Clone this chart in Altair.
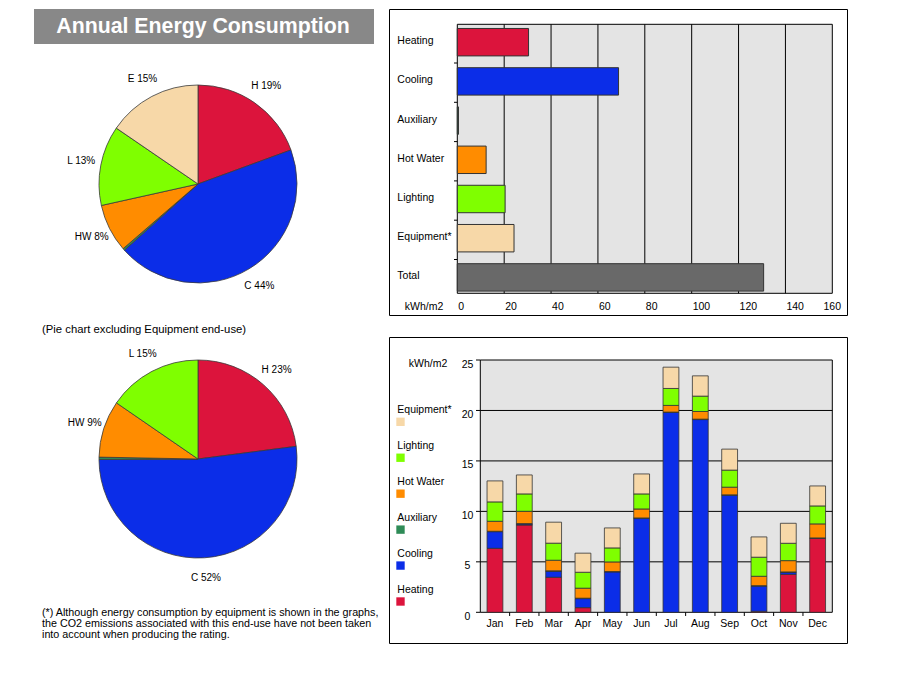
import altair as alt
import pandas as pd

FONT = "Liberation Sans, Arial, sans-serif"

# ---------------- data ----------------
title = "Annual Energy Consumption"
subtitle = "(Pie chart excluding Equipment end-use)"
footnote = [
    "(*) Although energy consumption by equipment is shown in the graphs,",
    "the CO2 emissions associated with this end-use have not been taken",
    "into account when producing the rating.",
]

end_uses = ["Heating", "Cooling", "Auxiliary", "Hot Water", "Lighting", "Equipment*", "Total"]
annual = [30.4, 68.8, 0.5, 12.3, 20.4, 24.2, 130.7]
colors = ["#DC143C", "#0B2DE8", "#2E8B57", "#FF8C00", "#7FFF00", "#F7D8A8", "#696969"]

pie1_cats = ["Heating", "Cooling", "Auxiliary", "Hot Water", "Lighting", "Equipment*"]
pie1_vals = [30.4, 68.8, 0.5, 12.3, 20.4, 24.2]
pie1_labels = ["H 19%", "C 44%", "", "HW 8%", "L 13%", "E 15%"]

pie2_cats = ["Heating", "Cooling", "Auxiliary", "Hot Water", "Lighting"]
pie2_vals = [30.4, 68.8, 0.5, 12.3, 20.4]
pie2_labels = ["H 23%", "C 52%", "", "HW 9%", "L 15%"]

x_ticks1 = [0, 20, 40, 60, 80, 100, 120, 140, 160]
y_ticks2 = [0, 5, 10, 15, 20, 25]
unit = "kWh/m2"

months = ["Jan", "Feb", "Mar", "Apr", "May", "Jun", "Jul", "Aug", "Sep", "Oct", "Nov", "Dec"]
m_heating = [6.34, 8.65, 3.47, 0.46, 0, 0, 0, 0, 0, 0.1, 3.76, 7.33]
m_cooling = [1.65, 0.1, 0.6, 0.9, 4.0, 9.31, 19.8, 19.1, 11.6, 2.5, 0.2, 0]
m_aux = [0.04, 0.04, 0.04, 0.04, 0.04, 0.04, 0.04, 0.04, 0.04, 0.04, 0.04, 0.04]
m_hotwater = [0.99, 1.22, 1.05, 0.99, 0.95, 0.89, 0.66, 0.76, 0.76, 0.93, 1.12, 1.39]
m_lighting = [1.92, 1.72, 1.69, 1.58, 1.39, 1.49, 1.68, 1.52, 1.69, 1.89, 1.72, 1.78]
m_equipment = [2.08, 1.88, 2.08, 1.89, 1.98, 1.98, 2.11, 2.01, 2.08, 2.01, 1.98, 1.98]

legend_order = ["Equipment*", "Lighting", "Hot Water", "Auxiliary", "Cooling", "Heating"]

# ---------------- helpers ----------------
color_scale = alt.Scale(domain=end_uses, range=colors)
one = pd.DataFrame({"d": [0]})


def box(x1, x2, y1, y2, fill, stroke=None):
    kw = dict(fill=fill)
    if stroke:
        kw.update(stroke=stroke, strokeWidth=1)
    return alt.Chart(one).mark_rect(**kw).encode(
        x=alt.value(x1), x2=alt.value(x2), y=alt.value(y1), y2=alt.value(y2))


layers = []

# title
layers.append(box(34, 374, 9, 44, "#888888"))
layers.append(alt.Chart(pd.DataFrame({"t": [title]})).mark_text(
    font=FONT, fontSize=21.3, fontWeight="bold", color="white", align="center", baseline="middle"
).encode(x=alt.value(203), y=alt.value(27), text="t:N"))


def pie(cats, vals, labels, cx, cy):
    df = pd.DataFrame({"cat": cats, "val": vals, "lab": labels, "ord": list(range(len(cats)))})
    base = alt.Chart(df).encode(
        theta=alt.Theta("val:Q", stack=True),
        order=alt.Order("ord:Q"),
        x=alt.value(cx), y=alt.value(cy))
    arcs = base.mark_arc(outerRadius=99, stroke="#3a3a3a", strokeWidth=0.8).encode(
        color=alt.Color("cat:N", scale=color_scale, legend=None))
    text = base.mark_text(radius=119, font=FONT, fontSize=10, color="black",
                          align="center", baseline="middle").encode(text="lab:N")
    return [arcs, text]


layers += pie(pie1_cats, pie1_vals, pie1_labels, 198, 184)
layers += pie(pie2_cats, pie2_vals, pie2_labels, 198, 459)

layers.append(alt.Chart(pd.DataFrame({"t": [subtitle]})).mark_text(
    font=FONT, fontSize=11.3, align="left", baseline="middle", color="black"
).encode(x=alt.value(42), y=alt.value(330), text="t:N"))

fn = pd.DataFrame({"t": footnote, "i": list(range(len(footnote)))})
layers.append(alt.Chart(fn).mark_text(
    font=FONT, fontSize=10.75, align="left", baseline="middle", color="black"
).encode(x=alt.value(42),
         y=alt.Y("i:O", scale=alt.Scale(type="point", domain=[0, 1, 2], range=[612.7, 635], padding=0), axis=None),
         text="t:N"))

# ---------------- bar chart 1 ----------------
xs1 = alt.Scale(domain=[0, 160], range=[457.3, 832.3], nice=False, zero=False)
ys1 = alt.Scale(domain=end_uses, range=[22.6, 297.0], paddingInner=0.3, paddingOuter=0.15)
ys1_ticks = alt.Scale(domain=end_uses, range=[23.7, 298.8], paddingInner=0, paddingOuter=0)
P1_TOP, P1_BOT = 24.3, 293.3

layers.append(box(389.5, 847.5, 9.5, 315.5, "white", "black"))
layers.append(alt.Chart(pd.DataFrame({"a": [x_ticks1[0]], "b": [x_ticks1[-1]]})).mark_rect(
    fill="#E4E4E4", stroke="black", strokeWidth=1
).encode(x=alt.X("a:Q", scale=xs1, axis=None), x2="b:Q", y=alt.value(P1_TOP), y2=alt.value(P1_BOT)))

tk1 = pd.DataFrame({"v": x_ticks1})
layers.append(alt.Chart(tk1).mark_rule(color="black", strokeWidth=1).encode(
    x=alt.X("v:Q", scale=xs1, axis=None), y=alt.value(P1_TOP), y2=alt.value(P1_BOT)
).transform_filter("datum.v > 0 && datum.v < 160"))

bars1 = pd.DataFrame({"cat": end_uses, "val": annual})
layers.append(alt.Chart(bars1).mark_bar(stroke="#333333", strokeWidth=1).encode(
    x=alt.X("val:Q", scale=xs1, axis=None),
    y=alt.Y("cat:N", scale=ys1, axis=None),
    color=alt.Color("cat:N", scale=color_scale, legend=None)))

layers.append(alt.Chart(bars1).mark_text(
    font=FONT, fontSize=10.5, align="left", baseline="middle", color="black", dy=-1
).encode(x=alt.value(397.3), y=alt.Y("cat:N", scale=ys1, axis=None), text="cat:N"))

layers.append(alt.Chart(pd.DataFrame({"cat": end_uses[1:]})).mark_rule(color="black").encode(
    y=alt.Y("cat:N", scale=ys1_ticks, axis=None, bandPosition=0),
    x=alt.value(454), x2=alt.value(457.3)))

layers.append(alt.Chart(tk1).mark_text(
    font=FONT, fontSize=10.5, align="left", baseline="middle", color="black", dx=1
).encode(x=alt.X("v:Q", scale=xs1, axis=None), y=alt.value(307), text="v:Q"
         ).transform_filter("datum.v < 160"))
layers.append(alt.Chart(tk1).mark_text(
    font=FONT, fontSize=10.5, align="center", baseline="middle", color="black"
).encode(x=alt.X("v:Q", scale=xs1, axis=None), y=alt.value(307), text="v:Q"
         ).transform_filter("datum.v >= 160"))
layers.append(alt.Chart(pd.DataFrame({"t": [unit]})).mark_text(
    font=FONT, fontSize=10.5, align="center", baseline="middle", color="black"
).encode(x=alt.value(424), y=alt.value(307), text="t:N"))

# ---------------- bar chart 2 ----------------
xs2 = alt.Scale(domain=months, range=[480.3, 832.3], paddingInner=0.46, paddingOuter=0.23)
xs2_ticks = alt.Scale(domain=months, range=[480.3, 832.3], paddingInner=0, paddingOuter=0)
ys2 = alt.Scale(domain=[0, 25], range=[612.3, 360], nice=False, zero=False)
P2_L, P2_R = 480.3, 832.3

layers.append(box(389.5, 847.5, 337.5, 643.5, "white", "black"))
layers.append(alt.Chart(pd.DataFrame({"a": [y_ticks2[0]], "b": [y_ticks2[-1]]})).mark_rect(
    fill="#E4E4E4", stroke="black", strokeWidth=1
).encode(y=alt.Y("a:Q", scale=ys2, axis=None), y2="b:Q", x=alt.value(P2_L), x2=alt.value(P2_R)))

tk2 = pd.DataFrame({"v": y_ticks2})
layers.append(alt.Chart(tk2).mark_rule(color="black", strokeWidth=1).encode(
    y=alt.Y("v:Q", scale=ys2, axis=None), x=alt.value(P2_L), x2=alt.value(P2_R)
).transform_filter("datum.v > 0 && datum.v < 25"))
layers.append(alt.Chart(tk2).mark_rule(color="black", strokeWidth=1).encode(
    y=alt.Y("v:Q", scale=ys2, axis=None), x=alt.value(476), x2=alt.value(P2_L)))

series = {
    "Heating": m_heating, "Cooling": m_cooling, "Auxiliary": m_aux,
    "Hot Water": m_hotwater, "Lighting": m_lighting, "Equipment*": m_equipment,
}
rows = []
for k, (cat, vals) in enumerate(series.items()):
    for m, v in zip(months, vals):
        rows.append({"month": m, "cat": cat, "val": v, "ord": k})
monthly = pd.DataFrame(rows)

layers.append(alt.Chart(monthly).mark_bar(stroke="#333333", strokeWidth=0.8).encode(
    x=alt.X("month:N", scale=xs2, axis=None),
    y=alt.Y("val:Q", scale=ys2, axis=None, stack="zero"),
    color=alt.Color("cat:N", scale=color_scale, legend=None),
    order=alt.Order("ord:Q", sort="ascending"),
).transform_filter("datum.val > 0"))

layers.append(alt.Chart(pd.DataFrame({"month": months[1:]})).mark_rule(color="black").encode(
    x=alt.X("month:N", scale=xs2_ticks, axis=None, bandPosition=0),
    y=alt.value(612.3), y2=alt.value(616)))

layers.append(alt.Chart(pd.DataFrame({"month": months})).mark_text(
    font=FONT, fontSize=10.5, align="center", baseline="middle", color="black"
).encode(x=alt.X("month:N", scale=xs2, axis=None), y=alt.value(624.3), text="month:N"))

layers.append(alt.Chart(tk2).mark_text(
    font=FONT, fontSize=10.5, align="center", baseline="middle", color="black", dy=4.5
).encode(y=alt.Y("v:Q", scale=ys2, axis=None), x=alt.value(467.5), text="v:Q"))

layers.append(alt.Chart(pd.DataFrame({"t": [unit]})).mark_text(
    font=FONT, fontSize=10.5, align="center", baseline="middle", color="black"
).encode(x=alt.value(428), y=alt.value(364.3), text="t:N"))

leg = pd.DataFrame({"cat": legend_order})
leg_scale = alt.Scale(type="point", domain=legend_order, range=[410.3, 590], padding=0)
layers.append(alt.Chart(leg).mark_text(
    font=FONT, fontSize=10.5, align="left", baseline="middle", color="black"
).encode(x=alt.value(397.3), y=alt.Y("cat:N", scale=leg_scale, axis=None), text="cat:N"))
layers.append(alt.Chart(leg).mark_square(size=70, opacity=1, yOffset=11.5).encode(
    x=alt.value(400.5), y=alt.Y("cat:N", scale=leg_scale, axis=None),
    color=alt.Color("cat:N", scale=color_scale, legend=None)))

chart = alt.layer(*layers).resolve_scale(
    x="independent", y="independent", color="independent", theta="independent"
).properties(
    width=898, height=698, padding=0, background="white",
    autosize=alt.AutoSizeParams(type="none"),
).configure_view(stroke=None)

chart.save("out.html", embed_options={"renderer": "svg", "actions": False})
